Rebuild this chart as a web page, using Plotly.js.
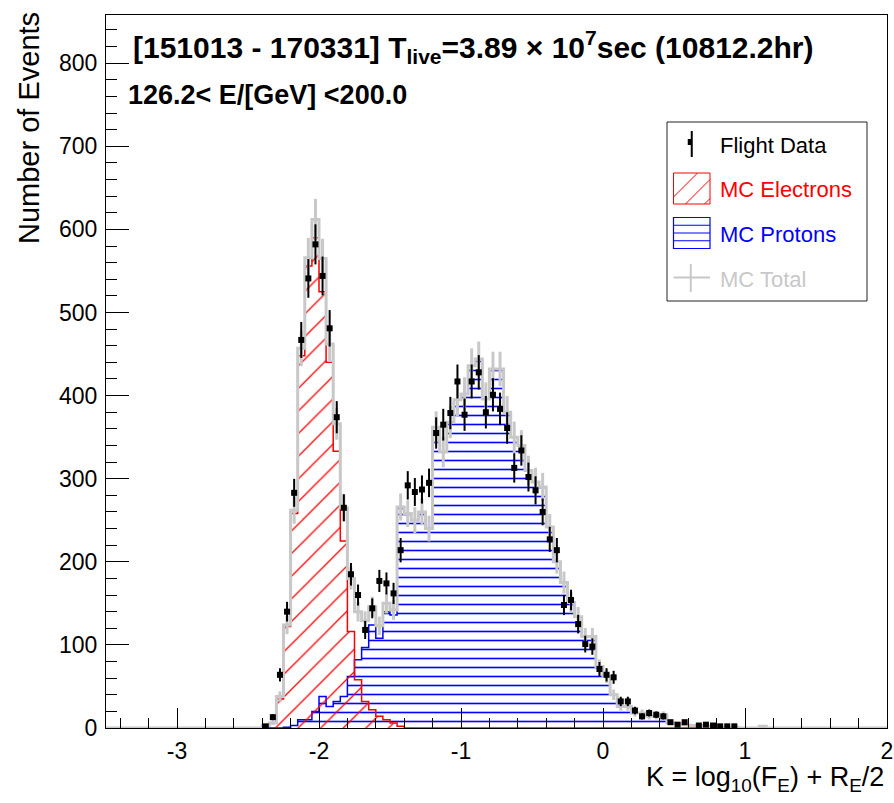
<!DOCTYPE html>
<html>
<head>
<meta charset="utf-8">
<script src="https://cdn.plot.ly/plotly-3.0.1.min.js"></script>
<style>html,body{margin:0;padding:0;background:#fff;}#chart{width:894px;height:803px;}</style>
</head>
<body>
<div id="chart"></div>
<script>
// Bin centres of K (bin width 0.05)
const kCenters = [
 -2.375,-2.325,-2.275,-2.225,-2.175,-2.125,-2.075,-2.025,-1.975,-1.925,
 -1.875,-1.825,-1.775,-1.725,-1.675,-1.625,-1.575,-1.525,-1.475,-1.425,
 -1.375,-1.325,-1.275,-1.225,-1.175,-1.125,-1.075,-1.025,-0.975,-0.925,
 -0.875,-0.825,-0.775,-0.725,-0.675,-0.625,-0.575,-0.525,-0.475,-0.425,
 -0.375,-0.325,-0.275,-0.225,-0.175,-0.125,-0.075,-0.025, 0.025, 0.075,
  0.125, 0.175, 0.225, 0.275, 0.325, 0.375, 0.425, 0.475, 0.525, 0.575,
  0.625, 0.675, 0.725, 0.775, 0.825, 0.875, 0.925, 0.975, 1.025, 1.075,
  1.125
];
const flightData = [
   2, 13, 64,140,283,467,541,582,544,481,
 374,265,185,160,118,144,177,174,162,214,
 292,284,287,295,355,365,379,417,377,417,
 428,380,401,384,361,313,334,302,286,260,
 227,214,148,154,125,101, 98, 71, 64, 61,
  32, 32, 21, 14, 18, 16, 14,  7,  4,  7,
   0,  3,  4,  3,  2,  2,  2,  0,  0,  0,
   0
];
const mcElectrons = [
   2,  6, 35,122,258,448,556,590,525,440,
 333,225,116, 58, 32, 22, 14, 10,  6,  2,
   0,  0,  0,  0,  0,  0,  0,  0,  0,  0,
   0,  0,  0,  0,  0,  0,  0,  0,  0,  0,
   0,  0,  0,  0,  0,  0,  0,  0,  0,  0,
   0,  0,  0,  0,  0,  0,  0,  0,  0,  0,
   0,  0,  0,  0,  0,  0,  0,  0,  0,  0,
   0
];
const mcProtons = [
   0,  0,  0,  1,  3, 10, 10, 20, 38, 26,
  32, 38, 62, 82, 97,124,108,140,136,264,
 258,250,260,240,362,332,368,395,402,436,
 444,396,432,432,380,350,340,310,296,290,
 242,200,175,151,134,110,110, 74, 62, 40,
  26, 26, 18, 18, 14, 14, 16,  6,  5,  4,
   3,  3,  2,  2,  1,  1,  1,  0,  0,  0,
   2
];
const mcTotal = [
   3,  6, 38,124,262,457,566,612,565,462,
 366,265,180,140,129,146,123,150,142,266,
 258,250,260,240,362,332,368,395,402,436,
 444,396,432,432,380,350,340,310,296,290,
 242,200,175,151,134,110,110, 74, 62, 40,
  26, 26, 18, 18, 14, 14, 16,  6,  5,  4,
   3,  3,  2,  2,  1,  1,  1,  0,  0,  0,
   2
];
const histRange = [-3.5, 2.0];
const xTickVals = [-3, -2, -1, 0, 1, 2];
const xTickText = ['-3', '-2', '-1', '0', '1', '2'];
const legendLabels = ['Flight Data', 'MC Electrons', 'MC Protons', 'MC Total'];

const binW = kCenters[1] - kCenters[0];
function stepXY(c, v, lo, hi) {
  const x = [], y = [];
  if (lo !== undefined) { x.push(lo); y.push(0); }
  x.push(c[0] - binW / 2); y.push(0);
  for (let i = 0; i < c.length; i++) { x.push(c[i] - binW / 2); y.push(v[i]); }
  x.push(c[c.length - 1] + binW / 2); y.push(0);
  if (hi !== undefined) { x.push(hi); y.push(0); }
  return {x, y};
}

const FONT = 'Liberation Sans, Arial, Helvetica, sans-serif';
const RED = '#ff0000', BLUE = '#0000ff', GRAY = '#c8c8c8';

const pStep = stepXY(kCenters, mcProtons);
const eStep = stepXY(kCenters, mcElectrons);
const tStep = stepXY(kCenters, mcTotal, histRange[0], histRange[1]);

const traces = [
  {
    x: pStep.x, y: pStep.y, type: 'scatter', mode: 'lines', line: {shape: 'hv', color: BLUE, width: 1.5},
    fill: 'tozeroy', fillcolor: 'rgba(0,0,0,0)',
    fillpattern: {shape: '-', fgcolor: BLUE, bgcolor: 'rgba(0,0,0,0)', size: 9, solidity: 0.18},
    name: legendLabels[2], showlegend: false, hoverinfo: 'skip'
  },
  {
    x: eStep.x, y: eStep.y, type: 'scatter', mode: 'lines', line: {shape: 'hv', color: RED, width: 1.5},
    fill: 'tozeroy', fillcolor: 'rgba(0,0,0,0)',
    fillpattern: {shape: '/', fgcolor: RED, bgcolor: 'rgba(0,0,0,0)', size: 16, solidity: 0.08},
    name: legendLabels[1], showlegend: false, hoverinfo: 'skip'
  },
  {
    x: tStep.x, y: tStep.y, type: 'scatter', mode: 'lines', line: {shape: 'hv', color: GRAY, width: 3},
    name: legendLabels[3], showlegend: false
  },
  {
    x: kCenters, y: mcTotal.map(v => v > 0 ? v : null), type: 'scatter', mode: 'markers',
    marker: {size: 1, color: 'rgba(0,0,0,0)'},
    error_y: {type: 'sqrt', color: GRAY, thickness: 3, width: 0},
    name: legendLabels[3], showlegend: false
  },
  {
    x: kCenters, y: flightData.map(v => v > 0 ? v : null), type: 'scatter', mode: 'markers',
    marker: {symbol: 'square', size: 6, color: 'black'},
    error_y: {type: 'sqrt', color: 'black', thickness: 2, width: 0},
    name: legendLabels[0], showlegend: false
  }
];

// ---- legend drawn as decoration (pixel geometry -> paper coords)
const M = {l: 106, r: 7, t: 15, b: 75};
const PW = 894 - M.l - M.r, PH = 803 - M.t - M.b;
const px = x => (x - M.l) / PW;
const py = y => (803 - M.b - y) / PH;
const shapes = [];
function seg(x0, y0, x1, y1, color, w) {
  shapes.push({type: 'line', xref: 'paper', yref: 'paper', x0: px(x0), y0: py(y0), x1: px(x1), y1: py(y1),
               line: {color: color, width: w}, layer: 'above'});
}
function box(x0, y0, x1, y1, color, w, fill) {
  shapes.push({type: 'rect', xref: 'paper', yref: 'paper', x0: px(x0), y0: py(y0), x1: px(x1), y1: py(y1),
               line: {color: color, width: w}, fillcolor: fill || 'rgba(0,0,0,0)', layer: 'above'});
}
const LG = {x0: 667, y0: 122, x1: 867, y1: 301, iconX0: 673.5, iconX1: 710, textX: 718, rows: [146, 190, 234.5, 279]};
box(LG.x0, LG.y0, LG.x1, LG.y1, '#222', 1, 'white');
// Flight data icon
const ix = (LG.iconX0 + LG.iconX1) / 2;
seg(ix, LG.rows[0] - 15, ix, LG.rows[0] + 11, 'black', 2);
box(ix - 4, LG.rows[0] - 7, ix, LG.rows[0] - 1, 'black', 0, 'black');
// Electrons icon: hatched box
{
  const y0 = LG.rows[1] - 17, y1 = LG.rows[1] + 14;
  box(LG.iconX0, y0, LG.iconX1, y1, RED, 1);
  for (let c = LG.iconX0 + y0 + 24; c < LG.iconX1 + y1; c += 19) {
    const xa = Math.max(LG.iconX0, c - y1), xb = Math.min(LG.iconX1, c - y0);
    if (xb > xa) seg(xa, c - xa, xb, c - xb, RED, 1);
  }
}
// Protons icon: horizontally hatched box
{
  const y0 = LG.rows[2] - 17, y1 = LG.rows[2] + 14;
  box(LG.iconX0, y0, LG.iconX1, y1, BLUE, 1.2);
  for (let y = y0 + 7.75; y < y1 - 1; y += 7.75) seg(LG.iconX0, y, LG.iconX1, y, BLUE, 1.2);
}
// MC total icon: cross
seg(LG.iconX0, LG.rows[3] - 1.5, LG.iconX1, LG.rows[3] - 1.5, GRAY, 2);
seg(ix - 1, LG.rows[3] - 15, ix - 1, LG.rows[3] + 13, GRAY, 2);

const legendColors = ['black', RED, BLUE, GRAY];
const legendAnn = legendLabels.map((t, i) => ({
  xref: 'paper', yref: 'paper', x: px(LG.textX), y: py(LG.rows[i]), xanchor: 'left', yanchor: 'middle',
  showarrow: false, text: t, font: {family: FONT, size: 22, color: legendColors[i]}
}));

const layout = {
  width: 894, height: 803,
  margin: M,
  paper_bgcolor: 'white', plot_bgcolor: 'white',
  font: {family: FONT, color: 'black'},
  showlegend: false,
  xaxis: {
    range: histRange, showgrid: false, zeroline: false,
    showline: true, mirror: true, linecolor: 'black', linewidth: 1,
    ticks: 'inside', ticklen: 20, tickcolor: 'black',
    tickmode: 'array', tickvals: xTickVals, ticktext: xTickText,
    minor: {ticks: 'inside', ticklen: 10, dtick: 0.2, tick0: 0, tickcolor: 'black', showgrid: false},
    tickfont: {size: 23, family: FONT}, ticklabelstandoff: 2
  },
  yaxis: {
    range: [0, 858], showgrid: false, zeroline: false,
    showline: true, mirror: true, linecolor: 'black', linewidth: 1,
    ticks: 'inside', ticklen: 23, tickcolor: 'black', dtick: 100, tick0: 0,
    minor: {ticks: 'inside', ticklen: 11, dtick: 20, tickcolor: 'black', showgrid: false},
    tickfont: {size: 23, family: FONT}, ticklabelstandoff: 3
  },
  shapes: shapes,
  annotations: [
    {xref: 'paper', yref: 'paper', x: px(131), y: py(47), xanchor: 'left', yanchor: 'middle', showarrow: false,
     text: '<b>[151013 - 170331] T<sub>live</sub>=3.89 × 10<sup>7</sup>sec (10812.2hr)</b>',
     font: {family: FONT, size: 30, color: 'black'}},
    {xref: 'paper', yref: 'paper', x: px(126), y: py(95), xanchor: 'left', yanchor: 'middle', showarrow: false,
     text: '<b>126.2&lt; E/[GeV] &lt;200.0</b>',
     font: {family: FONT, size: 27, color: 'black'}},
    {xref: 'paper', yref: 'paper', x: px(886), y: py(760), xanchor: 'right', yanchor: 'top', showarrow: false,
     text: 'K = log<sub>10</sub>(F<sub>E</sub>) + R<sub>E</sub>/2',
     font: {family: FONT, size: 27, color: 'black'}},
    {xref: 'paper', yref: 'paper', x: px(29), y: py(10), xanchor: 'center', yanchor: 'top', showarrow: false,
     textangle: -90, text: 'Number of Events',
     font: {family: FONT, size: 29, color: 'black'}}
  ].concat(legendAnn)
};

Plotly.newPlot('chart', traces, layout, {displayModeBar: false, staticPlot: true});
</script>
</body>
</html>
